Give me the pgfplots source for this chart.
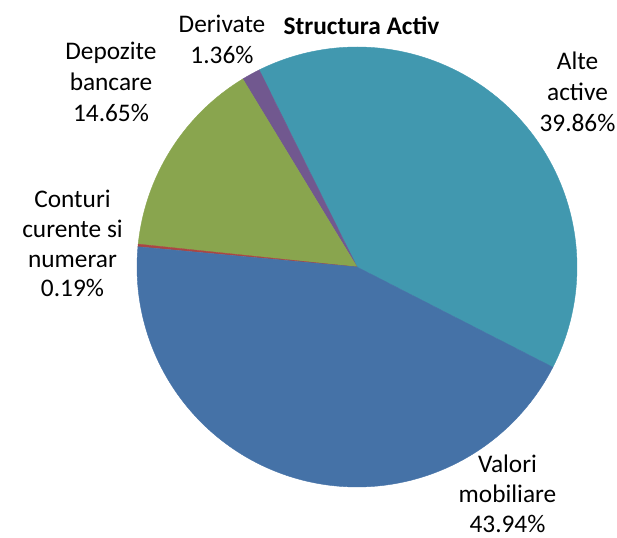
\documentclass[border=0pt]{standalone}
\usepackage{pgfplots}
\pgfplotsset{compat=1.18}
\usepackage{fontspec}
\setmainfont{Carlito}
\definecolor{cAlte}{HTML}{4198AF}
\definecolor{cDer}{HTML}{71588F}
\definecolor{cDep}{HTML}{89A54E}
\definecolor{cCon}{HTML}{AA4643}
\definecolor{cVal}{HTML}{4572A7}
\tikzset{lbl/.style={anchor=base, inner sep=0pt, font=\fontsize{19}{23}\selectfont}}
\begin{document}
\begin{tikzpicture}
% shares in percent
\pgfmathsetmacro\pAlte{39.86}
\pgfmathsetmacro\pDer{1.36}
\pgfmathsetmacro\pDep{14.65}
\pgfmathsetmacro\pCon{0.19}
\pgfmathsetmacro\pVal{43.94}
\pgfmathsetmacro\aA{-27.1}
\pgfmathsetmacro\aB{\aA+3.6*\pAlte}
\pgfmathsetmacro\aC{\aB+3.6*\pDer}
\pgfmathsetmacro\aD{\aC+3.6*\pDep}
\pgfmathsetmacro\aE{\aD+3.6*\pCon}
\pgfmathsetmacro\aF{\aE+3.6*\pVal}
\begin{axis}[
  width=462.75pt, height=403.5pt, scale only axis,
  xmin=0, xmax=617, ymin=0, ymax=538,
  hide axis, clip=false,
]
\path[draw=none] (rel axis cs:0,0) rectangle (rel axis cs:1,1);
\addplot[fill=cAlte, draw=cAlte, line width=0.3pt, domain=\aA:\aB, samples=120]
  ({357+220*cos(x)},{271+220*sin(x)}) -- (axis cs:357,271) -- cycle;
\addplot[fill=cDer, draw=cDer, line width=0.3pt, domain=\aB:\aC, samples=10]
  ({357+220*cos(x)},{271+220*sin(x)}) -- (axis cs:357,271) -- cycle;
\addplot[fill=cDep, draw=cDep, line width=0.3pt, domain=\aC:\aD, samples=50]
  ({357+220*cos(x)},{271+220*sin(x)}) -- (axis cs:357,271) -- cycle;
\addplot[fill=cCon, draw=cCon, line width=0.3pt, domain=\aD:\aE, samples=3]
  ({357+220*cos(x)},{271+220*sin(x)}) -- (axis cs:357,271) -- cycle;
\addplot[fill=cVal, draw=cVal, line width=0.3pt, domain=\aE:\aF, samples=130]
  ({357+220*cos(x)},{271+220*sin(x)}) -- (axis cs:357,271) -- cycle;

% title
\node[lbl, font=\fontsize{19}{23}\selectfont\bfseries] at (axis cs:361.5,503) {Structura Activ};
% labels (baselines in pixel rows, y = 538 - row)
\node[lbl] at (axis cs:222,505) {Derivate};
\node[lbl] at (axis cs:222,474) {1.36\%};
\node[lbl] at (axis cs:111,478) {Depozite};
\node[lbl] at (axis cs:111,447) {bancare};
\node[lbl] at (axis cs:111,416) {14.65\%};
\node[lbl] at (axis cs:577.5,468) {Alte};
\node[lbl] at (axis cs:577.5,437) {active};
\node[lbl] at (axis cs:577.5,406) {39.86\%};
\node[lbl] at (axis cs:72.5,330) {Conturi};
\node[lbl] at (axis cs:72.5,300.3) {curente si};
\node[lbl] at (axis cs:72.5,270.6) {numerar};
\node[lbl] at (axis cs:72.5,241) {0.19\%};
\node[lbl] at (axis cs:507.5,65) {Valori};
\node[lbl] at (axis cs:507.5,35) {mobiliare};
\node[lbl] at (axis cs:507.5,5) {43.94\%};
\end{axis}
\end{tikzpicture}
\end{document}
